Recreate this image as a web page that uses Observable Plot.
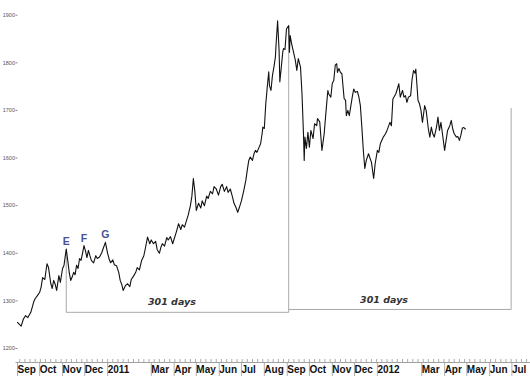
<!DOCTYPE html>
<html><head><meta charset="utf-8">
<script src="https://cdn.jsdelivr.net/npm/d3@7"></script>
<script src="https://cdn.jsdelivr.net/npm/@observablehq/plot@0.6"></script>
<style>body{margin:0;background:#fff}svg{display:block}</style>
</head><body><div id="chart"></div>
<script>
const dates = [
"2010-09-03","2010-09-06","2010-09-08","2010-09-11","2010-09-14","2010-09-17","2010-09-21","2010-09-25","2010-09-27","2010-09-30",
"2010-10-03","2010-10-05","2010-10-07","2010-10-10","2010-10-12","2010-10-13","2010-10-15","2010-10-18","2010-10-20","2010-10-22",
"2010-10-24","2010-10-26","2010-10-29","2010-10-31","2010-11-03","2010-11-05","2010-11-08","2010-11-10","2010-11-12","2010-11-14",
"2010-11-16","2010-11-18","2010-11-20","2010-11-22","2010-11-24","2010-11-26","2010-11-28","2010-11-30","2010-12-02","2010-12-04",
"2010-12-06","2010-12-08","2010-12-10","2010-12-12","2010-12-15","2010-12-18","2010-12-20","2010-12-23","2010-12-26","2010-12-28",
"2010-12-31","2011-01-03","2011-01-05","2011-01-07","2011-01-10","2011-01-12","2011-01-15","2011-01-18","2011-01-20","2011-01-22",
"2011-01-24","2011-01-27","2011-01-30","2011-02-02","2011-02-04","2011-02-07","2011-02-10","2011-02-12","2011-02-15","2011-02-18",
"2011-02-21","2011-02-23","2011-02-26","2011-03-01","2011-03-03","2011-03-06","2011-03-09","2011-03-11","2011-03-14","2011-03-16",
"2011-03-18","2011-03-21","2011-03-24","2011-03-26","2011-03-29","2011-04-01","2011-04-03","2011-04-06","2011-04-09","2011-04-12",
"2011-04-14","2011-04-17","2011-04-20","2011-04-22","2011-04-25","2011-04-27","2011-04-29","2011-05-01","2011-05-03","2011-05-06",
"2011-05-09","2011-05-11","2011-05-14","2011-05-17","2011-05-19","2011-05-22","2011-05-25","2011-05-27","2011-05-30","2011-06-02",
"2011-06-05","2011-06-07","2011-06-10","2011-06-13","2011-06-15","2011-06-18","2011-06-21","2011-06-23","2011-06-26","2011-06-28",
"2011-06-30","2011-07-03","2011-07-06","2011-07-09","2011-07-11","2011-07-13","2011-07-15","2011-07-18","2011-07-20","2011-07-22",
"2011-07-24","2011-07-27","2011-07-29","2011-07-31","2011-08-01","2011-08-03","2011-08-05","2011-08-07","2011-08-09","2011-08-10",
"2011-08-12","2011-08-14","2011-08-16","2011-08-18","2011-08-19","2011-08-21","2011-08-23","2011-08-24","2011-08-26","2011-08-28",
"2011-08-29","2011-08-31","2011-09-02","2011-09-05","2011-09-06","2011-09-07","2011-09-09","2011-09-11","2011-09-14","2011-09-16",
"2011-09-18","2011-09-21","2011-09-23","2011-09-25","2011-09-26","2011-09-27","2011-09-29","2011-10-01","2011-10-03","2011-10-05",
"2011-10-08","2011-10-10","2011-10-13","2011-10-14","2011-10-17","2011-10-20","2011-10-23","2011-10-26","2011-10-28","2011-10-29",
"2011-11-01","2011-11-03","2011-11-05","2011-11-07","2011-11-09","2011-11-10","2011-11-12","2011-11-14","2011-11-16","2011-11-19",
"2011-11-21","2011-11-22","2011-11-24","2011-11-26","2011-11-30","2011-12-02","2011-12-04","2011-12-07","2011-12-09","2011-12-11",
"2011-12-13","2011-12-15","2011-12-17","2011-12-19","2011-12-22","2011-12-26","2011-12-29","2011-12-31","2012-01-03","2012-01-05",
"2012-01-07","2012-01-11","2012-01-14","2012-01-16","2012-01-20","2012-01-22","2012-01-24","2012-01-28","2012-01-30","2012-02-01",
"2012-02-03","2012-02-06","2012-02-08","2012-02-10","2012-02-12","2012-02-14","2012-02-17","2012-02-19","2012-02-21","2012-02-23",
"2012-02-24","2012-02-27","2012-02-29","2012-03-02","2012-03-04","2012-03-07","2012-03-09","2012-03-12","2012-03-14","2012-03-16",
"2012-03-18","2012-03-20","2012-03-23","2012-03-25","2012-03-27","2012-03-29","2012-04-01","2012-04-03","2012-04-05","2012-04-07",
"2012-04-10","2012-04-12","2012-04-14","2012-04-16","2012-04-19","2012-04-21","2012-04-23","2012-04-25","2012-04-27","2012-04-29",
"2012-05-01"
];
const prices = [
1255,1250,1247,1262,1269,1265,1276,1298,1305,1311,
1318,1329,1349,1345,1368,1378,1370,1337,1326,1343,
1335,1322,1353,1339,1368,1375,1409,1385,1360,1343,
1350,1360,1355,1375,1368,1389,1385,1400,1416,1405,
1391,1406,1395,1385,1380,1395,1389,1392,1401,1410,
1423,1400,1388,1380,1386,1376,1374,1360,1343,1335,
1322,1332,1336,1330,1345,1352,1360,1370,1365,1385,
1395,1410,1434,1420,1428,1420,1425,1408,1400,1412,
1420,1415,1433,1428,1435,1420,1430,1445,1462,1450,
1460,1455,1470,1480,1500,1520,1557,1530,1490,1505,
1495,1510,1500,1520,1515,1530,1525,1540,1535,1522,
1540,1545,1530,1540,1528,1535,1518,1505,1495,1486,
1495,1510,1530,1553,1575,1595,1602,1595,1609,1616,
1612,1623,1630,1651,1665,1662,1714,1749,1781,1752,
1742,1773,1791,1812,1840,1888,1826,1760,1791,1823,
1830,1828,1871,1878,1822,1857,1840,1826,1805,1784,
1809,1791,1735,1651,1595,1644,1620,1654,1623,1658,
1641,1672,1668,1683,1676,1616,1651,1707,1742,1735,
1728,1757,1763,1795,1798,1780,1788,1780,1777,1725,
1721,1689,1700,1689,1728,1745,1738,1740,1728,1710,
1665,1616,1578,1595,1609,1591,1557,1588,1616,1612,
1630,1644,1651,1658,1675,1668,1724,1735,1745,1756,
1728,1742,1728,1731,1717,1728,1731,1766,1784,1778,
1787,1721,1714,1700,1675,1710,1700,1661,1644,1665,
1651,1644,1665,1686,1658,1675,1640,1616,1637,1658,
1668,1679,1661,1651,1644,1645,1637,1648,1663,1664,
1661
];
const yTicks = [1200,1300,1400,1500,1600,1700,1800,1900];
const monthStarts = ["2010-09-01","2010-10-01","2010-11-01","2010-12-01","2011-01-01","2011-03-01","2011-04-01","2011-05-01","2011-06-01","2011-07-01","2011-08-01","2011-09-01","2011-10-01","2011-11-01","2011-12-01","2012-01-01","2012-03-01","2012-04-01","2012-05-01","2012-06-01","2012-07-01"];
const monthLabels = ["Sep","Oct","Nov","Dec","2011","Mar","Apr","May","Jun","Jul","Aug","Sep","Oct","Nov","Dec","2012","Mar","Apr","May","Jun","Jul"];
const peakLetters = ["E","F","G"];
const peakDates = ["2010-11-08","2010-12-02","2010-12-31"];
const peakValues = [1409,1416,1423];
const bracketDates = ["2010-11-08","2011-09-05","2012-07-02"];
const bracketTops = [1409,1875,1705];
const bracketBases = [1276,1282];
const spanText = ["301 days","301 days"];
const spanDates = ["2011-03-31","2012-01-12"];
const spanValues = [1297,1302];

const P = s => new Date(s + "T00:00:00Z");
const series = dates.map((d,i) => ({date: P(d), price: prices[i]}));
const months = monthStarts.map(P);
const labelOf = new Map(months.map((d,i) => [+d, monthLabels[i]]));
const xStart = P("2010-09-01"), xEnd = new Date("2012-07-28T05:00:00Z");
const weeks = d3.utcMonday.range(xStart, xEnd);
const yMin = 1170.6;
const b = bracketDates.map(P);
const segs = [
  {x1:b[0], y1:bracketTops[0], x2:b[0], y2:bracketBases[0]},
  {x1:b[0], y1:bracketBases[0], x2:b[1], y2:bracketBases[0]},
  {x1:b[1], y1:bracketTops[1], x2:b[1], y2:bracketBases[0]},
  {x1:b[1], y1:bracketBases[1], x2:b[2], y2:bracketBases[1]},
  {x1:b[2], y1:bracketBases[1], x2:b[2], y2:bracketTops[2]}
];
const letters = peakLetters.map((t,i) => ({t, date:P(peakDates[i]), v:peakValues[i]}));
const spans = spanText.map((t,i) => ({t, date:P(spanDates[i]), v:spanValues[i]}));

const chart = Plot.plot({
  width: 530, height: 376,
  marginLeft: 15.5, marginRight: 0, marginTop: 14.7, marginBottom: 14,
  style: {fontFamily: "'Liberation Sans', Arial, sans-serif", background: "#fff"},
  x: {type: "utc", domain: [xStart, xEnd]},
  y: {domain: [yMin, 1900]},
  marks: [
    Plot.axisY(yTicks, {tickSize: 2, tickPadding: 1, dx: 2, fontSize: 5.5, tickFormat: "d", fill: "#555", stroke: "#888"}),
    Plot.ruleY([yMin], {stroke: "#888", strokeWidth: 0.8}),
    Plot.axisX(weeks, {tickSize: -3, tickFormat: () => "", stroke: "#888", strokeWidth: 0.7}),
    Plot.axisX(months, {tickSize: 14, tickPadding: -11, tickFormat: d => labelOf.get(+d), textAnchor: "start", dx: 1.5, fontSize: 10, fontWeight: "bold", fill: "#111", stroke: "#999", strokeWidth: 0.8}),
    Plot.link(segs, {x1:"x1", y1:"y1", x2:"x2", y2:"y2", stroke: "#a8a8a8", strokeWidth: 1}),
    Plot.line(series, {x: "date", y: "price", stroke: "#111", strokeWidth: 1.1}),
    Plot.text(letters, {x: "date", y: "v", text: "t", dy: -4, lineAnchor: "bottom", fontSize: 10.5, fontWeight: "bold", fill: "#4a5296"}),
    Plot.text(spans, {x: "date", y: "v", text: "t", lineAnchor: "middle", fontSize: 9.5, fontWeight: "bold", fontStyle: "italic", fontFamily: "'DejaVu Sans', Verdana, sans-serif", fill: "#333"})
  ]
});
document.getElementById("chart").appendChild(chart);
</script>
</body></html>
